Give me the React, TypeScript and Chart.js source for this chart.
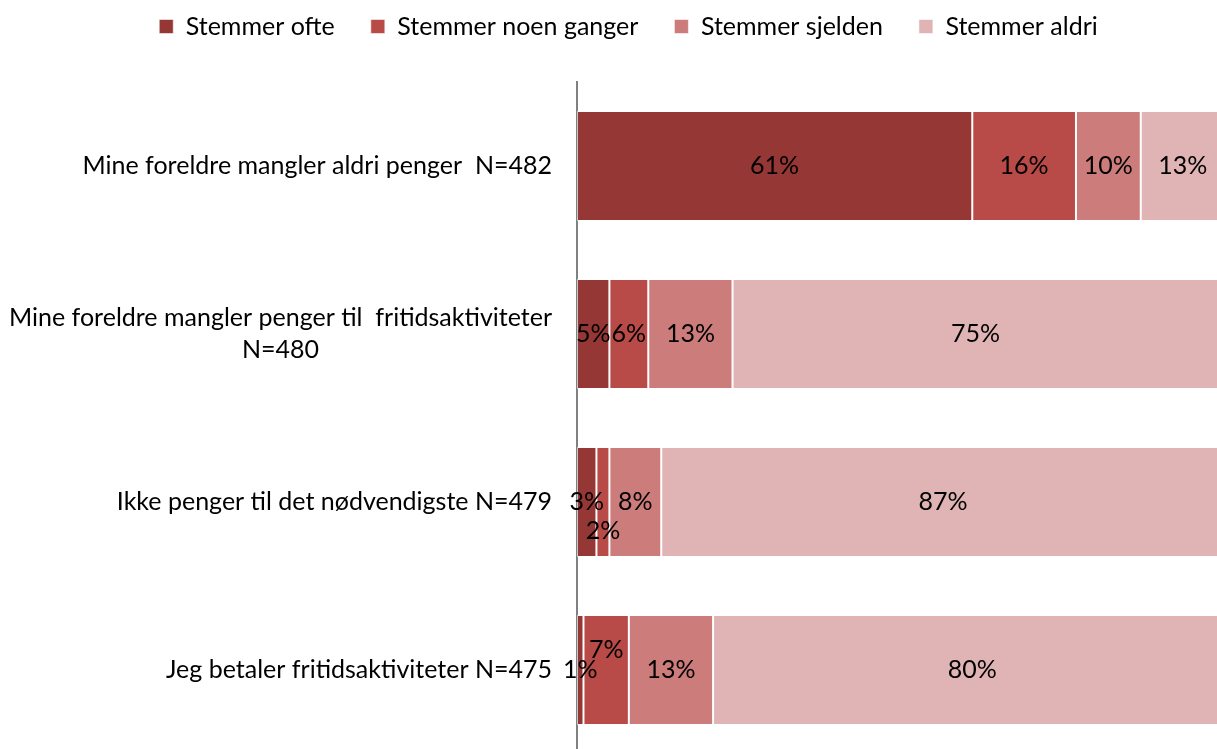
import React, { useEffect, useRef } from "react";
import { Chart, registerables } from "chart.js";

Chart.register(...registerables);

const categories: string[][] = [
  ["Mine foreldre mangler aldri penger  N=482"],
  ["Mine foreldre mangler penger til  fritidsaktiviteter", "N=480"],
  ["Ikke penger til det nødvendigste N=479"],
  ["Jeg betaler fritidsaktiviteter N=475"],
];

const seriesNames = ["Stemmer ofte", "Stemmer noen ganger", "Stemmer sjelden", "Stemmer aldri"];

const stemmerOfte = [61, 5, 3, 1];
const stemmerNoenGanger = [16, 6, 2, 7];
const stemmerSjelden = [10, 13, 8, 13];
const stemmerAldri = [13, 75, 87, 80];

const seriesColors = ["#953735", "#B84A47", "#CC7C7A", "#E0B4B4"];

const FONT = "Lato, 'Noto Sans', sans-serif";
const FS = 25;

// label nudges for crowded small segments: key "datasetIndex-row" -> dy
const labelNudge: Record<string, number> = { "1-2": 29, "1-3": -20 };

export default function App() {
  const ref = useRef<HTMLCanvasElement | null>(null);
  useEffect(() => {
    document.body.style.margin = "0";
    const canvas = ref.current!;
    const valuesList = [stemmerOfte, stemmerNoenGanger, stemmerSjelden, stemmerAldri];

    const legendHeight = {
      id: "legendHeight",
      beforeInit(chart: any) {
        const legend = chart.legend;
        if (!legend) return;
        const orig = legend.fit;
        legend.fit = function () {
          orig.call(legend);
          legend.height = 82;
        };
      },
      afterLayout(chart: any) {
        const legend = chart.legend;
        if (!legend) return;
        legend.left += 16;
        legend.right += 16;
        legend.top -= 22;
        legend.bottom -= 22;
      },
    };

    const labelsPlugin = {
      id: "customLabels",
      afterDatasetsDraw(chart: any) {
        const ctx = chart.ctx;
        ctx.save();
        ctx.font = `${FS}px ${FONT}`;
        ctx.fillStyle = "#000";
        ctx.textAlign = "center";
        ctx.textBaseline = "middle";
        chart.data.datasets.forEach((ds: any, di: number) => {
          const meta = chart.getDatasetMeta(di);
          meta.data.forEach((bar: any, i: number) => {
            const cx = (bar.x + bar.base) / 2;
            const dy = labelNudge[`${di}-${i}`] || 0;
            ctx.fillText(`${ds.data[i]}%`, cx, bar.y + dy);
          });
        });
        // category labels
        const yScale = chart.scales.y;
        const rightEdge = chart.chartArea.left - 25;
        const lh = 32;
        categories.forEach((lines, i) => {
          const y = yScale.getPixelForValue(i);
          const maxW = Math.max(...lines.map((l) => ctx.measureText(l).width));
          const cx = rightEdge - maxW / 2;
          lines.forEach((l, k) => {
            ctx.fillText(l, cx, y + (k - (lines.length - 1) / 2) * lh);
          });
        });
        ctx.restore();
      },
    };

    const chart = new Chart(canvas, {
      type: "bar",
      data: {
        labels: categories.map((c) => c.join(" ")),
        datasets: seriesNames.map((name, k) => ({
          label: name,
          data: valuesList[k],
          backgroundColor: seriesColors[k],
          borderColor: "rgba(255,255,255,0.55)",
          borderWidth: 1,
          borderSkipped: false,
          categoryPercentage: 1,
          barPercentage: 0.655,
        })),
      },
      options: {
        indexAxis: "y",
        animation: false,
        responsive: false,
        maintainAspectRatio: false,
        layout: { padding: 0 },
        plugins: {
          legend: {
            position: "top",
            labels: {
              font: { family: FONT, size: FS },
              color: "#000",
              boxWidth: 14,
              boxHeight: 14,
              padding: 36,
            },
          },
          tooltip: { enabled: false },
        },
        scales: {
          x: { stacked: true, min: 0, max: 100, display: false },
          y: {
            stacked: true,
            ticks: { display: false },
            grid: { display: false },
            border: { display: true, color: "#808080", width: 2 },
            afterFit(scale: any) {
              scale.width = 577;
            },
          },
        },
      },
      plugins: [legendHeight, labelsPlugin],
    } as any);
    return () => chart.destroy();
  }, []);

  return (
    <div style={{ width: 1217, height: 749, overflow: "hidden", background: "#fff" }}>
      <canvas ref={ref} width={1225} height={754} style={{ display: "block" }} />
    </div>
  );
}
